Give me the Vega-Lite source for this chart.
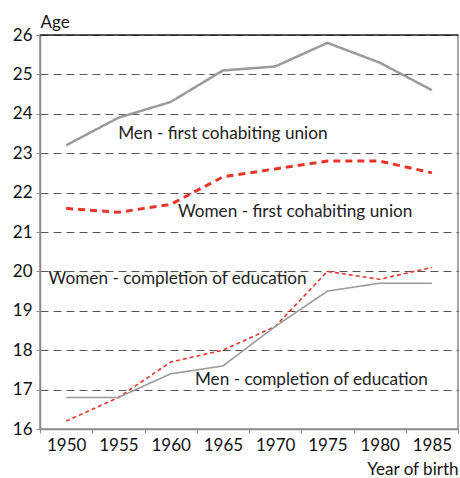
{
  "$schema": "https://vega.github.io/schema/vega-lite/v6.json",
  "width": 418,
  "height": 394,
  "autosize": "none",
  "padding": {"left": 40, "top": 35, "right": 2, "bottom": 49},
  "background": "white",
  "config": {
    "view": {"stroke": "#8c8c8c", "strokeWidth": 1.5},
    "font": "Lato",
    "text": {"font": "Lato"}
  },
  "data": {
    "values": [
      {"year": 1950, "age": 23.2, "series": "Men - first cohabiting union"},
      {"year": 1955, "age": 23.9, "series": "Men - first cohabiting union"},
      {"year": 1960, "age": 24.3, "series": "Men - first cohabiting union"},
      {"year": 1965, "age": 25.1, "series": "Men - first cohabiting union"},
      {"year": 1970, "age": 25.2, "series": "Men - first cohabiting union"},
      {"year": 1975, "age": 25.8, "series": "Men - first cohabiting union"},
      {"year": 1980, "age": 25.3, "series": "Men - first cohabiting union"},
      {"year": 1985, "age": 24.6, "series": "Men - first cohabiting union"},
      {"year": 1950, "age": 21.6, "series": "Women - first cohabiting union"},
      {"year": 1955, "age": 21.5, "series": "Women - first cohabiting union"},
      {"year": 1960, "age": 21.7, "series": "Women - first cohabiting union"},
      {"year": 1965, "age": 22.4, "series": "Women - first cohabiting union"},
      {"year": 1970, "age": 22.6, "series": "Women - first cohabiting union"},
      {"year": 1975, "age": 22.8, "series": "Women - first cohabiting union"},
      {"year": 1980, "age": 22.8, "series": "Women - first cohabiting union"},
      {"year": 1985, "age": 22.5, "series": "Women - first cohabiting union"},
      {"year": 1950, "age": 16.2, "series": "Women - completion of education"},
      {"year": 1955, "age": 16.8, "series": "Women - completion of education"},
      {"year": 1960, "age": 17.7, "series": "Women - completion of education"},
      {"year": 1965, "age": 18.0, "series": "Women - completion of education"},
      {"year": 1970, "age": 18.6, "series": "Women - completion of education"},
      {"year": 1975, "age": 20.0, "series": "Women - completion of education"},
      {"year": 1980, "age": 19.8, "series": "Women - completion of education"},
      {"year": 1985, "age": 20.1, "series": "Women - completion of education"},
      {"year": 1950, "age": 16.8, "series": "Men - completion of education"},
      {"year": 1955, "age": 16.8, "series": "Men - completion of education"},
      {"year": 1960, "age": 17.4, "series": "Men - completion of education"},
      {"year": 1965, "age": 17.6, "series": "Men - completion of education"},
      {"year": 1970, "age": 18.6, "series": "Men - completion of education"},
      {"year": 1975, "age": 19.5, "series": "Men - completion of education"},
      {"year": 1980, "age": 19.7, "series": "Men - completion of education"},
      {"year": 1985, "age": 19.7, "series": "Men - completion of education"}
    ]
  },
  "encoding": {
    "x": {
      "field": "year",
      "type": "ordinal",
      "bandPosition": 0.5,
      "scale": {"type": "band", "paddingInner": 0, "paddingOuter": 0, "domain": [1950, 1955, 1960, 1965, 1970, 1975, 1980, 1985]},
      "axis": {
        "title": "Year of birth",
        "titleFont": "Lato",
        "titleFontSize": 17,
        "titleFontWeight": "normal",
        "titleColor": "#111",
        "titleX": 418,
        "titleY": 40,
        "titleAlign": "right",
        "titleBaseline": "middle",
        "tickBand": "extent",
        "labelAngle": 0,
        "labelFont": "Lato",
        "labelFontSize": 17,
        "labelColor": "#111",
        "labelPadding": 4,
        "tickSize": 4,
        "tickColor": "#8c8c8c",
        "domainColor": "#8c8c8c",
        "domainWidth": 1.5,
        "grid": false
      }
    },
    "y": {
      "field": "age",
      "type": "quantitative",
      "scale": {"domain": [16, 26], "nice": false, "zero": false},
      "axis": {
        "title": "Age",
        "titleFont": "Lato",
        "titleFontSize": 17,
        "titleFontWeight": "normal",
        "titleColor": "#111",
        "titleAngle": 0,
        "titleX": 0,
        "titleY": -13,
        "titleAlign": "left",
        "titleBaseline": "middle",
        "values": [16, 17, 18, 19, 20, 21, 22, 23, 24, 25, 26],
        "labelFont": "Lato",
        "labelFontSize": 17,
        "labelColor": "#111",
        "labelPadding": 4,
        "tickSize": 4,
        "tickColor": "#8c8c8c",
        "domainColor": "#8c8c8c",
        "domainWidth": 1.5,
        "grid": true,
        "gridColor": "#555",
        "gridDash": [8, 5],
        "gridWidth": 1
      }
    }
  },
  "layer": [
    {
      "mark": {"type": "rule", "color": "black", "strokeWidth": 1.2},
      "data": {"values": [{"top": 26}]},
      "encoding": {"y": {"field": "top", "type": "quantitative"}, "x": null}
    },
    {
      "mark": {"type": "line", "strokeJoin": "miter"},
      "encoding": {
        "detail": {"field": "series"},
        "color": {
          "field": "series",
          "type": "nominal",
          "legend": null,
          "scale": {
            "domain": ["Men - first cohabiting union", "Women - first cohabiting union", "Women - completion of education", "Men - completion of education"],
            "range": ["#9b9b9b", "#e8352b", "#e8352b", "#9b9b9b"]
          }
        },
        "strokeDash": {
          "field": "series",
          "type": "nominal",
          "legend": null,
          "scale": {
            "domain": ["Men - first cohabiting union", "Women - first cohabiting union", "Women - completion of education", "Men - completion of education"],
            "range": [[1, 0], [7, 5], [4, 3], [1, 0]]
          }
        },
        "strokeWidth": {
          "field": "series",
          "type": "nominal",
          "legend": null,
          "scale": {
            "type": "ordinal",
            "domain": ["Men - first cohabiting union", "Women - first cohabiting union", "Women - completion of education", "Men - completion of education"],
            "range": [2.5, 3, 1.6, 1.6]
          }
        }
      }
    },
    {
      "data": {"values": [{"year": 1965, "age": 23.5, "label": "Men - first cohabiting union"}]},
      "mark": {"type": "text", "fontSize": 17.2, "font": "Lato", "color": "#222", "align": "center", "baseline": "middle"},
      "encoding": {"text": {"field": "label"}}
    },
    {
      "data": {"values": [{"year": 1970, "age": 21.5, "label": "Women - first cohabiting union"}]},
      "mark": {"type": "text", "fontSize": 17.2, "font": "Lato", "color": "#222", "align": "center", "baseline": "middle", "dx": 20},
      "encoding": {"text": {"field": "label"}}
    },
    {
      "data": {"values": [{"year": 1960, "age": 19.8, "label": "Women - completion of education"}]},
      "mark": {"type": "text", "fontSize": 17.2, "font": "Lato", "color": "#222", "align": "center", "baseline": "middle", "dx": 7},
      "encoding": {"text": {"field": "label"}}
    },
    {
      "data": {"values": [{"year": 1975, "age": 17.25, "label": "Men - completion of education"}]},
      "mark": {"type": "text", "fontSize": 17.2, "font": "Lato", "color": "#222", "align": "center", "baseline": "middle", "dx": -16},
      "encoding": {"text": {"field": "label"}}
    }
  ]
}
